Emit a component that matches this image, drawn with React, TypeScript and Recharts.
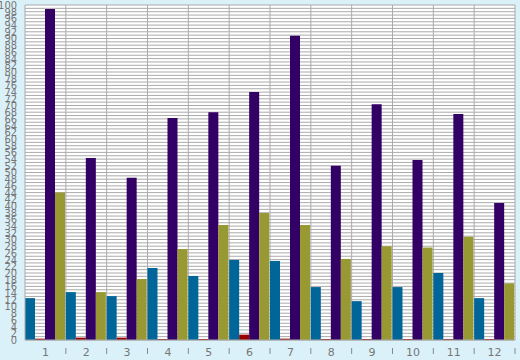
import { Bar, BarChart, CartesianGrid, XAxis, YAxis } from "recharts";

const CATEGORIES = ["1", "2", "3", "4", "5", "6", "7", "8", "9", "10", "11", "12"];
const BLUE = [12.5, 14.3, 13.1, 21.5, 19.1, 23.9, 23.6, 15.8, 11.6, 15.8, 20, 12.5];
const RED = [0.4, 0.7, 0.7, 0.3, 0.3, 1.6, 0.4, 0.3, 0.3, 0.3, 0.3, 0.3];
const PURPLE = [98.8, 54.3, 48.4, 66.3, 68, 74, 90.8, 52, 70.4, 53.7, 67.5, 40.9];
const OLIVE = [44, 14.3, 18.2, 27.2, 34.3, 37.9, 34.3, 24.2, 28, 27.6, 30.8, 16.9];

// one tick per unit for the grid, only even ones get a label
const Y_TICKS = Array.from({ length: 101 }, (_, i) => i);

const data = CATEGORIES.map((c, i) => ({
  cat: c,
  blue: BLUE[i],
  red: RED[i],
  purple: PURPLE[i],
  olive: OLIVE[i],
}));

const GRID = "#aaaaaa";
const TEXT = { fontSize: 11, fill: "#777", fontFamily: "DejaVu Sans" } as const;
const Y_TEXT = {
  fontSize: 11,
  fill: "#777",
  fontFamily: "'DejaVu Sans Condensed', 'Liberation Sans Narrow', 'DejaVu Sans'",
} as const;

// label at the band centre, tick mark on the band's right edge
function CatTick(props: any) {
  const { x, y, payload, width, visibleTicksCount } = props;
  const half = width / visibleTicksCount / 2;
  return (
    <g>
      <line x1={x + half} x2={x + half} y1={y} y2={y + 6} stroke="#888" />
      <text x={x} y={y + 8} textAnchor="middle" {...TEXT}>
        {payload.value}
      </text>
    </g>
  );
}

export default function App() {
  return (
    <div style={{ position: "fixed", left: 0, top: 0, width: 520, height: 360, background: "#dbf1f9" }}>
      <BarChart
        width={520}
        height={360}
        data={data}
        margin={{ top: 5, right: 5, bottom: 0, left: 0 }}
        barCategoryGap={0}
        barGap={0}
      >
        <CartesianGrid
          stroke={GRID}
          strokeWidth={1}
          fill="#ffffff"
          fillOpacity={1}
          verticalCoordinatesGenerator={({ offset }: any) =>
            CATEGORIES.map((_, i) => offset.left + ((i + 1) * offset.width) / CATEGORIES.length)
          }
        />
        <XAxis
          dataKey="cat"
          height={20}
          tickLine={false}
          axisLine={{ stroke: GRID }}
          tick={<CatTick />}
          interval={0}
        />
        <YAxis
          width={25}
          domain={[0, 100]}
          ticks={Y_TICKS}
          interval={0}
          tick={Y_TEXT}
          tickLine={false}
          tickMargin={2}
          axisLine={{ stroke: GRID }}
          tickFormatter={(v) => (v % 2 === 0 ? String(v) : "")}
        />
        <Bar dataKey="blue" fill="#006699" isAnimationActive={false} />
        <Bar dataKey="red" fill="#990000" isAnimationActive={false} />
        <Bar dataKey="purple" fill="#330066" isAnimationActive={false} />
        <Bar dataKey="olive" fill="#999933" isAnimationActive={false} />
      </BarChart>
    </div>
  );
}
